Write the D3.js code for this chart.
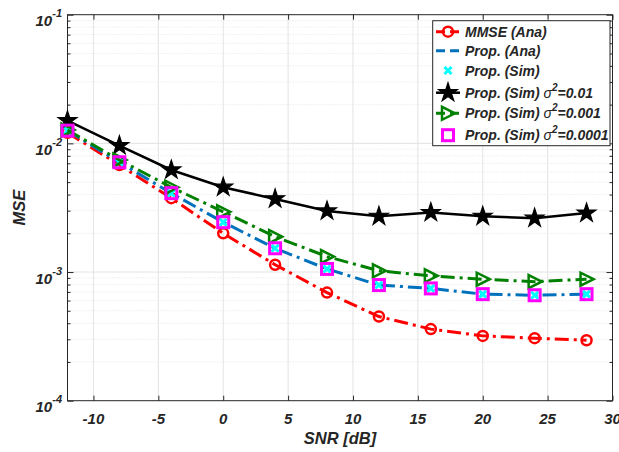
<!DOCTYPE html>
<html><head><meta charset="utf-8">
<script src="https://cdn.jsdelivr.net/npm/d3@7"></script>
<style>
html,body{margin:0;padding:0;background:#fff;}
svg{display:block;}
text{font-family:"Liberation Sans",Arial,Helvetica,sans-serif;font-weight:bold;font-style:italic;fill:#262626;}
</style></head>
<body>
<script>
const snr = [-12, -8, -4, 0, 4, 8, 12, 16, 20, 24, 28];
const mmseAna = [0.0121, 0.00679, 0.00375, 0.00200, 0.00114, 0.000692, 0.000451, 0.000360, 0.000319, 0.000306, 0.000295];
const propAna = [0.01256, 0.00713, 0.00410, 0.00244, 0.00153, 0.001057, 0.000792, 0.000746, 0.000673, 0.000660, 0.000673];
const propSim = [0.01256, 0.00713, 0.00410, 0.00244, 0.00153, 0.001057, 0.000792, 0.000746, 0.000673, 0.000660, 0.000673];
const simS001 = [0.0150, 0.00960, 0.00621, 0.00456, 0.00370, 0.00298, 0.00271, 0.00290, 0.00271, 0.00262, 0.00287];
const simS0001 = [0.01271, 0.00743, 0.00456, 0.00294, 0.001884, 0.001318, 0.001023, 0.000934, 0.000879, 0.000842, 0.000879];
const simS00001 = [0.01256, 0.00713, 0.00410, 0.00244, 0.00153, 0.001057, 0.000792, 0.000746, 0.000673, 0.000660, 0.000673];
const xTicks = [-10, -5, 0, 5, 10, 15, 20, 25, 30];
const yTicks = [1e-4, 1e-3, 1e-2, 1e-1];
const yTickExp = ["-4", "-3", "-2", "-1"];
const legendLabels = ["MMSE (Ana)", "Prop. (Ana)", "Prop. (Sim)", "Prop. (Sim) σ²=0.01", "Prop. (Sim) σ²=0.001", "Prop. (Sim) σ²=0.0001"];

const W = 619, H = 452;
const L = 67.5, R = 612.5, T = 14.7, B = 400.7;
const svg = d3.select("body").append("svg").attr("width", W).attr("height", H);
const x = d3.scaleLinear().domain([-12, 30]).range([L, R]);
const y = d3.scaleLog().domain([1e-4, 1e-1]).range([B, T]);

const minorY = [];
for (let e = -4; e < -1; e++) for (let k = 2; k <= 9; k++) minorY.push(k * Math.pow(10, e));

const grid = svg.append("g");
grid.selectAll(".mg").data(minorY).join("line")
  .attr("x1", L).attr("x2", R).attr("y1", d => y(d)).attr("y2", d => y(d))
  .attr("stroke", "#dcdcdc").attr("stroke-width", 0.8).attr("stroke-dasharray", "1,2");
grid.selectAll(".xg").data(xTicks.filter(d => d < 30)).join("line")
  .attr("x1", d => x(d)).attr("x2", d => x(d)).attr("y1", T).attr("y2", B)
  .attr("stroke", "#e3e3e3").attr("stroke-width", 1);
grid.selectAll(".yg").data(yTicks.slice(1, 3)).join("line")
  .attr("x1", L).attr("x2", R).attr("y1", d => y(d)).attr("y2", d => y(d))
  .attr("stroke", "#e3e3e3").attr("stroke-width", 1);

const axCol = "#262626";
function styleAxis(g) {
  g.select(".domain").remove();
  g.selectAll("line").attr("stroke", axCol).attr("stroke-width", 1);
  g.selectAll("text").remove();
}
svg.append("g").attr("transform", `translate(0,${B})`)
  .call(d3.axisBottom(x).tickValues(xTicks).tickSize(-5)).call(styleAxis);
svg.append("g").attr("transform", `translate(0,${T})`)
  .call(d3.axisTop(x).tickValues(xTicks).tickSize(-5)).call(styleAxis);
svg.append("g").attr("transform", `translate(${L},0)`)
  .call(d3.axisLeft(y).tickValues(yTicks).tickSize(-6)).call(styleAxis);
svg.append("g").attr("transform", `translate(${L},0)`)
  .call(d3.axisLeft(y).tickValues(minorY).tickSize(-3)).call(styleAxis);
svg.append("g").attr("transform", `translate(${R},0)`)
  .call(d3.axisRight(y).tickValues(yTicks).tickSize(-6)).call(styleAxis);
svg.append("g").attr("transform", `translate(${R},0)`)
  .call(d3.axisRight(y).tickValues(minorY).tickSize(-3)).call(styleAxis);
svg.append("rect").attr("x", L).attr("y", T).attr("width", R - L).attr("height", B - T)
  .attr("fill", "none").attr("stroke", axCol).attr("stroke-width", 1);

svg.append("g").selectAll("text").data(xTicks).join("text")
  .attr("x", d => x(d)).attr("y", 423.5).attr("text-anchor", "middle")
  .attr("font-size", 15).text(d => d);
const yl = svg.append("g").selectAll("text").data(yTicks).join("text")
  .attr("x", 62).attr("y", d => y(d) + 11.5).attr("text-anchor", "end").attr("font-size", 15);
yl.append("tspan").text("10");
yl.append("tspan").attr("dy", -9).attr("font-size", 11).text((d, i) => yTickExp[i]);

svg.append("text").attr("x", (L + R) / 2).attr("y", 443.5).attr("text-anchor", "middle")
  .attr("font-size", 16.5).text("SNR [dB]");
svg.append("text").attr("transform", `translate(24.5,${(T + B) / 2}) rotate(-90)`)
  .attr("text-anchor", "middle").attr("font-size", 16.5).text("MSE");

const dashDot = "14,5,3,5";
const mk = {
  circle: g => g.append("circle").attr("r", 5).attr("fill", "none").attr("stroke", "#ff0000").attr("stroke-width", 2.5),
  xmark: g => g.append("path").attr("d", "M-3.5,-3.5L3.5,3.5M-3.5,3.5L3.5,-3.5").attr("fill", "none").attr("stroke", "#00ffff").attr("stroke-width", 3),
  star: g => g.append("path").attr("d", d3.symbol(d3.symbolStar, 110)()).attr("fill", "#000").attr("stroke", "#000").attr("stroke-width", 1.2),
  tri: g => g.append("path").attr("d", "M7,0L-6,-6.5L-6,6.5Z").attr("fill", "none").attr("stroke", "#008000").attr("stroke-width", 2.5),
  square: g => g.append("rect").attr("x", -5.5).attr("y", -5.5).attr("width", 11).attr("height", 11).attr("fill", "none").attr("stroke", "#ff00ff").attr("stroke-width", 3)
};
const series = [
  {v: mmseAna, color: "#ff0000", w: 3, dash: dashDot, m: "circle", line: true},
  {v: propAna, color: "#0072bd", w: 3, dash: dashDot, m: null, line: true},
  {v: propSim, color: "#00ffff", w: 0, dash: null, m: "xmark", line: false},
  {v: simS001, color: "#000000", w: 2.5, dash: null, m: "star", line: true},
  {v: simS0001, color: "#008000", w: 3, dash: dashDot, m: "tri", line: true},
  {v: simS00001, color: "#ff00ff", w: 0, dash: null, m: "square", line: false}
];
const lineGen = d3.line().x((d, i) => x(snr[i])).y(d => y(d)).curve(d3.curveLinear);
series.forEach(s => {
  const g = svg.append("g");
  if (s.line) {
    g.append("path").attr("d", lineGen(s.v)).attr("fill", "none").attr("stroke", s.color)
      .attr("stroke-width", s.w).attr("stroke-dasharray", s.dash);
  }
  if (s.m) {
    s.v.forEach((d, i) => {
      const mg = g.append("g").attr("transform", `translate(${x(snr[i])},${y(d)})`);
      mk[s.m](mg);
    });
  }
});

const lg = svg.append("g");
lg.append("rect").attr("x", 432.7).attr("y", 20.7).attr("width", 177.3).attr("height", 125)
  .attr("fill", "#fff").attr("stroke", axCol).attr("stroke-width", 1);
const rowY = [31.7, 50.7, 70.5, 92.7, 113.3, 135.2];
series.forEach((s, i) => {
  const cy = rowY[i];
  if (s.line) {
    lg.append("line").attr("x1", 436).attr("x2", 460).attr("y1", cy).attr("y2", cy)
      .attr("stroke", s.color).attr("stroke-width", s.w)
      .attr("stroke-dasharray", s.dash ? "9,5,9" : null);
  }
  if (s.m) {
    const mg = lg.append("g").attr("transform", `translate(448,${cy})`);
    mk[s.m](mg);
  }
  const t = lg.append("text").attr("x", 465).attr("y", cy + 5).attr("font-size", 14);
  const lab = legendLabels[i];
  const si = lab.indexOf("σ²");
  if (si < 0) { t.text(lab); }
  else {
    t.append("tspan").text(lab.slice(0, si));
    t.append("tspan").attr("font-weight", "normal").text("σ");
    t.append("tspan").attr("dy", -7).attr("font-size", 10).text("2");
    t.append("tspan").attr("dy", 7).text(lab.slice(si + 2));
  }
});
</script>
</body></html>
